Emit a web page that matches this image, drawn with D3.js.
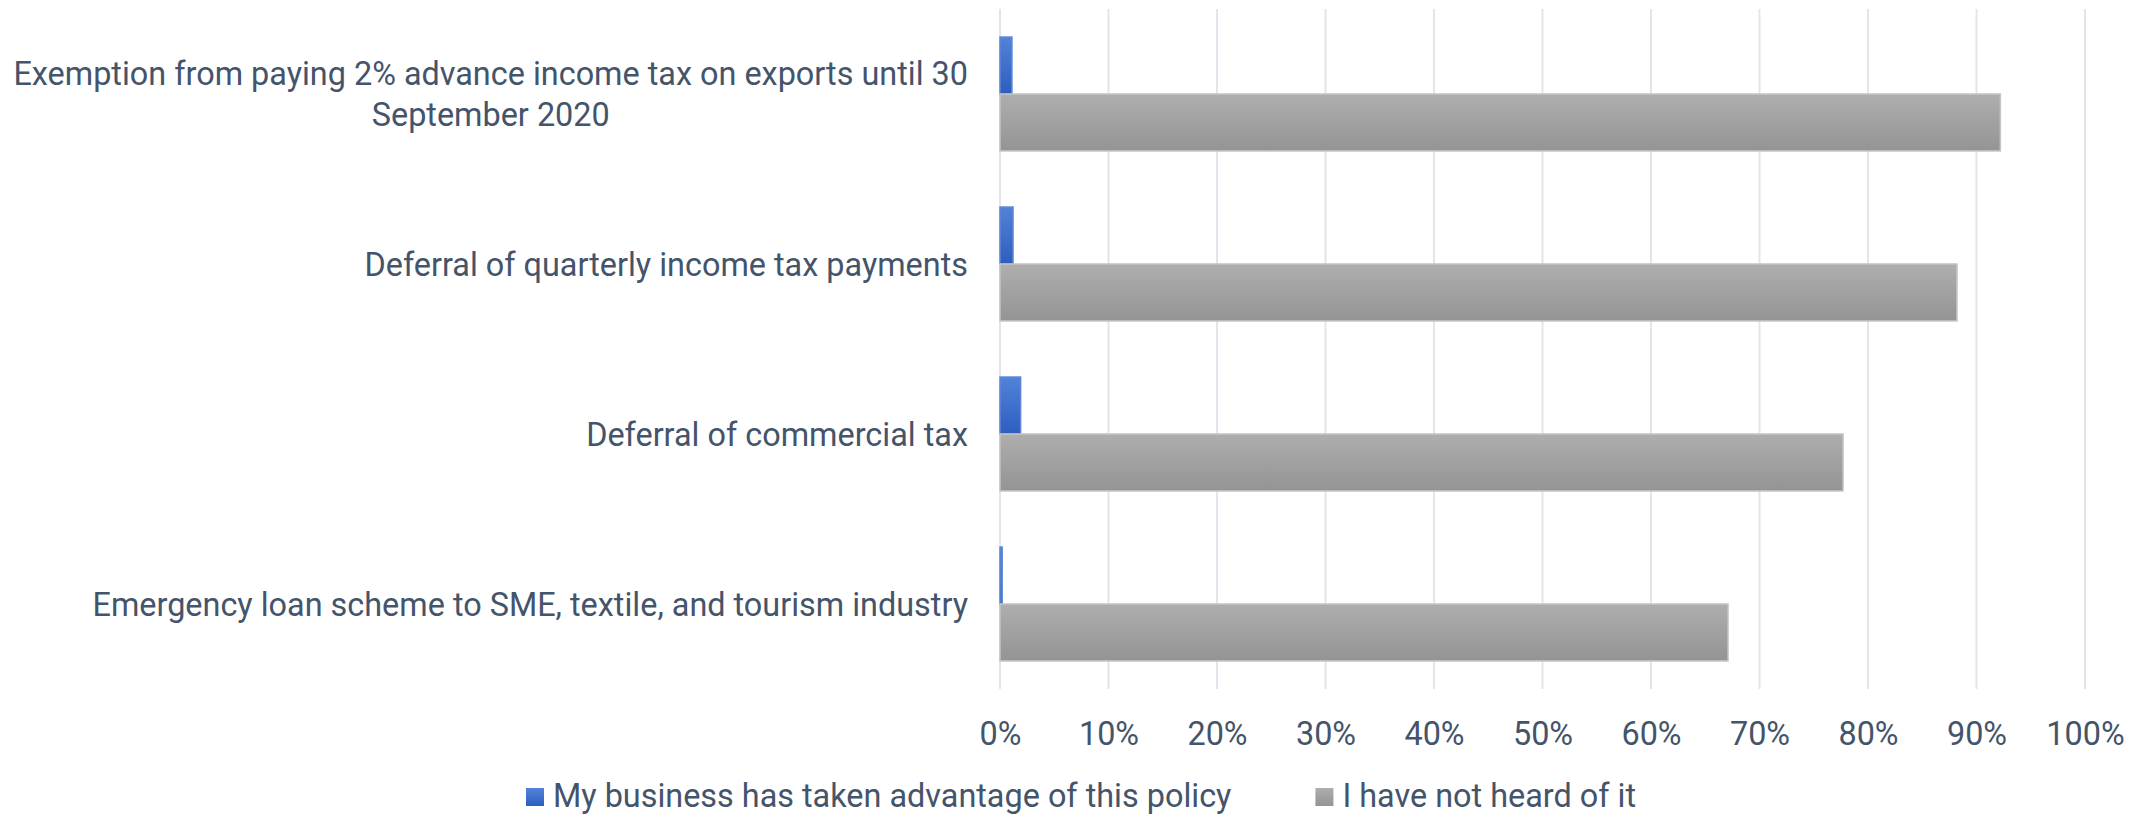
<!DOCTYPE html>
<html>
<head>
<meta charset="utf-8">
<script src="https://cdn.jsdelivr.net/npm/d3@7"></script>
<style>
  html, body { margin: 0; padding: 0; background: #fff; }
  svg { display: block; }
  text { font-family: Roboto, "Noto Sans", sans-serif; fill: #44546a; }
</style>
</head>
<body>
<svg id="chart" width="2141" height="815"></svg>
<script>
// ---- data ----
const categories = [
  ["Exemption from paying 2% advance income tax on exports until 30", "September 2020"],
  ["Deferral of quarterly income tax payments"],
  ["Deferral of commercial tax"],
  ["Emergency loan scheme to SME, textile, and tourism industry"]
];
const seriesNames = ["My business has taken advantage of this policy", "I have not heard of it"];
const takenAdvantage = [0.011, 0.012, 0.019, 0.002];
const notHeard = [0.922, 0.882, 0.777, 0.671];
const tickValues = [0, 0.1, 0.2, 0.3, 0.4, 0.5, 0.6, 0.7, 0.8, 0.9, 1.0];

// ---- layout ----
const plot = { left: 1000, right: 2085, top: 9, bottom: 689 };
const fontSize = 32.4;

const svg = d3.select("#chart");
const defs = svg.append("defs");
function grad(id, top, bottom) {
  const g = defs.append("linearGradient").attr("id", id)
    .attr("x1", 0).attr("y1", 0).attr("x2", 0).attr("y2", 1);
  g.append("stop").attr("offset", "0%").attr("stop-color", top);
  g.append("stop").attr("offset", "100%").attr("stop-color", bottom);
}
grad("gBlue", "#5283d8", "#2d5ebf");
grad("gGrey", "#aeaeae", "#949494");

const x = d3.scaleLinear().domain([0, 1]).range([plot.left, plot.right]);
const catIdx = categories.map((d, i) => i);
const y = d3.scaleBand().domain(catIdx).range([plot.top, plot.bottom]).paddingInner(0.33).paddingOuter(0.165);
const sub = d3.scaleBand().domain([0, 1]).range([0, y.bandwidth()]);

// gridlines
svg.append("g").selectAll("line").data(tickValues).join("line")
  .attr("x1", d => x(d)).attr("x2", d => x(d))
  .attr("y1", plot.top).attr("y2", plot.bottom)
  .attr("stroke", "#e1e5ec").attr("stroke-width", 2);

// x axis tick labels
const xAxis = d3.axisBottom(x).tickValues(tickValues).tickFormat(d3.format(".0%")).tickSize(0).tickPadding(0);
const xg = svg.append("g").attr("transform", `translate(0,${plot.bottom})`).call(xAxis);
xg.select(".domain").remove();
xg.selectAll("text")
  .attr("font-size", fontSize).attr("dy", null).attr("y", 56)
  .style("font-family", "Roboto").attr("fill", "#44546a");

// bars
const series = [
  { values: takenAdvantage, fill: "url(#gBlue)", stroke: "#5d87d6" },
  { values: notHeard, fill: "url(#gGrey)", stroke: "#c4c4c4" }
];
series.forEach((s, si) => {
  svg.append("g").selectAll("rect").data(s.values).join("rect")
    .attr("x", x(0))
    .attr("y", (d, i) => y(i) + sub(si))
    .attr("width", d => x(d) - x(0))
    .attr("height", sub.bandwidth())
    .attr("fill", s.fill)
    .attr("stroke", s.stroke).attr("stroke-width", 1.5);
});

// category labels (multi-line centered block, right aligned)
const labelRight = plot.left - 32;
const lineH = 41;
const lg = svg.append("g");
categories.forEach((lines, i) => {
  const cy = y(i) + y.bandwidth() / 2;
  const t = lg.append("text").attr("font-size", fontSize).attr("text-anchor", "middle");
  const widths = lines.map(l => {
    const tmp = lg.append("text").attr("font-size", fontSize).text(l);
    const w = tmp.node().getComputedTextLength();
    tmp.remove();
    return w;
  });
  const maxW = d3.max(widths);
  const cx = labelRight - maxW / 2;
  const n = lines.length;
  lines.forEach((l, k) => {
    t.append("tspan").attr("x", cx)
      .attr("y", cy + (k - (n - 1) / 2) * lineH + fontSize * 0.36)
      .text(l);
  });
});

// legend
const legend = svg.append("g");
let lx = 526;
const legendY = 807;
const sw = 18;
const fills = ["url(#gBlue)", "url(#gGrey)"];
seriesNames.forEach((name, i) => {
  legend.append("rect").attr("x", lx).attr("y", legendY - 19).attr("width", sw).attr("height", sw)
    .attr("fill", fills[i]);
  const t = legend.append("text").attr("x", lx + sw + 9).attr("y", legendY)
    .attr("font-size", fontSize).text(name);
  const w = t.node().getComputedTextLength();
  lx = lx + sw + 9 + w + 84;
});
</script>
</body>
</html>
